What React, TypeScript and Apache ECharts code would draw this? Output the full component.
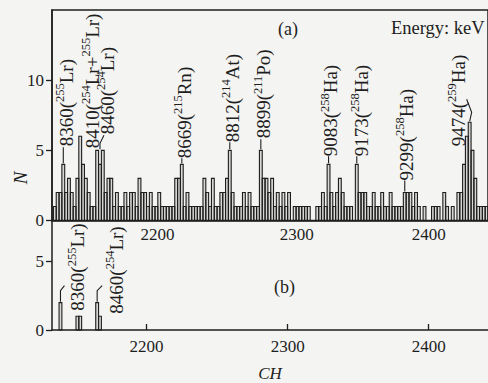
import React, { useEffect, useRef } from 'react';
import * as echarts from 'echarts';

// ---------- data ----------
const BIN_START = 2134; // first channel of the first bin
const BIN_WIDTH = 2; // channels per bin
const X_MIN = 2133;
const X_MAX = 2442;
const X_TICKS = [2200, 2300, 2400];
const TOP_Y_TICKS = [0, 5, 10];
const BOTTOM_Y_TICKS = [0, 5];

// (a) counts per 2-channel bin, starting at channel 2134
const TOP_COUNTS = [
  1, 2, 2, 4, 2, 3, 2, 1, 3, 6,
  4, 3, 2, 1, 1, 5, 4, 5, 2, 3,
  3, 1, 2, 1, 1, 2, 1, 2, 2, 1,
  3, 2, 2, 1, 2, 1, 1, 2, 1, 1,
  1, 1, 1, 3, 3, 4, 1, 2, 1, 1,
  1, 1, 1, 3, 2, 1, 3, 1, 1, 2,
  2, 3, 5, 2, 1, 1, 1, 2, 1, 2,
  1, 1, 1, 5, 3, 3, 2, 3, 1, 2,
  1, 2, 1, 2, 0, 1, 1, 1, 1, 1,
  1, 0, 0, 1, 1, 2, 1, 4, 2, 1,
  2, 3, 2, 1, 1, 1, 0, 4, 2, 2,
  2, 1, 1, 2, 1, 1, 2, 1, 1, 2,
  1, 1, 1, 1, 2, 2, 2, 1, 2, 1,
  0, 1, 0, 0, 1, 1, 1, 0, 2, 1,
  0, 1, 0, 2, 2, 4, 6, 7, 5, 3,
  1, 1, 1, 1,
];

// (b) non-empty bins: [first channel of bin, counts]
const BOTTOM_BINS = [
  [2138, 2],
  [2150, 1],
  [2152, 1],
  [2164, 2],
  [2166, 1],
];

// peak annotations of (a)
const TOP_PEAK_CHANNELS = [2141, 2153, 2167, 2225, 2259, 2281, 2329, 2349, 2383, 2429];
const TOP_PEAK_COUNTS = [4, 6, 5, 4, 5, 5, 4, 4, 2, 7];
const TOP_PEAK_ENERGIES = ['8360', '8410', '8460', '8669', '8812', '8899', '9083', '9173', '9299', '9474'];
const TOP_PEAK_NUCLIDES = [
  [['255', 'Lr']],
  [['254', 'Lr'], ['255', 'Lr']],
  [['254', 'Lr']],
  [['215', 'Rn']],
  [['214', 'At']],
  [['211', 'Po']],
  [['258', 'Ha']],
  [['258', 'Ha']],
  [['258', 'Ha']],
  [['259', 'Ha']],
];

// peak annotations of (b)
const BOTTOM_PEAK_CHANNELS = [2139, 2165];
const BOTTOM_PEAK_COUNTS = [2, 2];
const BOTTOM_PEAK_ENERGIES = ['8360', '8460'];
const BOTTOM_PEAK_NUCLIDES = [[['255', 'Lr']], [['254', 'Lr']]];

// ---------- layout of the annotation texts (px, relative to the peak top) ----------
const TOP_LABEL_LAYOUT = [
  { dx: 1.5, gap: 18, leader: [[0, -1], [0, -17]] },
  { dx: 10.5, gap: -12, leader: [] },
  { dx: 6, gap: 16, leader: [[0, -1], [0, -7], [4, -15]] },
  { dx: 1, gap: 6, leader: [[0, -1], [0, -6]] },
  { dx: 1, gap: 8, leader: [[0, -1], [0, -8]] },
  { dx: 1.5, gap: 12, leader: [[0, -1], [0, -11]] },
  { dx: 0.5, gap: 8, leader: [[0, -1], [0, -8]] },
  { dx: 3, gap: 8, leader: [[0, -1], [0, -8]] },
  { dx: 0, gap: 12, leader: [[0, -1], [0, -12]] },
  { dx: -13, gap: -24, leader: [[0, -1], [2, -10], [-3, -23]] },
];
const BOTTOM_LABEL_LAYOUT = [
  { dx: 16, gap: -8, leader: [[0, -1], [0, -12], [4, -17]] },
  { dx: 17.5, gap: -11, leader: [[0, -1], [0, -12], [5, -17]] },
];

const SERIF = 'Liberation Serif';
const INK = '#1e1e1e';

function richLabel(energy: string, nuclides: string[][]) {
  const parts = nuclides.map(([a, s]) => `{s|${a}}{n|${s}}`).join('{n|+}');
  return `{n|${energy}(}${parts}{n|)}`;
}

const LABEL_RICH = {
  n: { fontFamily: SERIF, fontSize: 19, lineHeight: 22, verticalAlign: 'bottom', fill: INK },
  s: { fontFamily: SERIF, fontSize: 12.5, lineHeight: 13, verticalAlign: 'top', fill: INK },
};

function histItem(start: number, count: number, api: any) {
  if (!count) return null;
  const p0 = api.coord([start, count]);
  const p1 = api.coord([start + BIN_WIDTH, 0]);
  return {
    type: 'rect',
    shape: { x: p0[0], y: p0[1], width: p1[0] - p0[0], height: p1[1] - p0[1] },
    style: { fill: 'rgba(40,40,40,0.14)', stroke: INK, lineWidth: 1.1 },
  };
}

function annotationSeries(
  xAxisIndex: number,
  channels: number[],
  counts: number[],
  energies: string[],
  nuclides: string[][][],
  layout: any[]
) {
  return {
    type: 'custom',
    xAxisIndex,
    yAxisIndex: xAxisIndex,
    data: channels.map((c, i) => [c, counts[i]]),
    encode: { x: 0, y: 1 },
    silent: true,
    z: 5,
    renderItem: (params: any, api: any) => {
      const i = params.dataIndex;
      const p = api.coord([api.value(0), api.value(1)]);
      const L = layout[i];
      const children: any[] = [];
      if (L.leader.length > 1) {
        children.push({
          type: 'polyline',
          shape: { points: L.leader.map(([a, b]: number[]) => [p[0] + a, p[1] + b]) },
          style: { stroke: INK, lineWidth: 1.1, fill: 'none' },
        });
      }
      children.push({
        type: 'text',
        x: p[0] + L.dx,
        y: p[1] - L.gap,
        rotation: Math.PI / 2,
        style: {
          text: richLabel(energies[i], nuclides[i]),
          rich: LABEL_RICH,
          fill: INK,
          fontFamily: SERIF,
          fontSize: 19,
          align: 'left',
          verticalAlign: 'middle',
        },
      });
      return { type: 'group', children };
    },
  };
}

export default function App() {
  const ref = useRef<HTMLDivElement>(null);

  useEffect(() => {
    if (!ref.current) return;
    const chart = echarts.init(ref.current, null, { renderer: 'svg' });

    const axisLineStyle = { color: INK, width: 1.5 };
    const tickLabel = { fontFamily: SERIF, fontSize: 17, color: INK };

    const option: any = {
      animation: false,
      backgroundColor: '#f4f4f2',
      textStyle: { fontFamily: SERIF },
      grid: [
        {
          left: 52, top: 10, width: 437.2, height: 210.5,
          show: true, borderColor: INK, borderWidth: 1.5, backgroundColor: 'transparent',
        },
        { left: 52, top: 220.5, width: 437.2, height: 113.5 },
      ],
      xAxis: [
        {
          type: 'value', gridIndex: 0, min: X_MIN, max: X_MAX,
          axisLine: { show: true, lineStyle: axisLineStyle },
          axisTick: { show: false },
          splitLine: { show: false },
          axisLabel: {
            ...tickLabel,
            customValues: X_TICKS,
            margin: 5,
            formatter: (v: number) => `{t${v}|${v}}`,
            rich: {
              t2200: { ...tickLabel, padding: [0, 0, 0, 22] },
              t2300: { ...tickLabel, padding: [0, 0, 0, 18] },
              t2400: { ...tickLabel },
            },
          },
        },
        {
          type: 'value', gridIndex: 1, min: X_MIN, max: X_MAX,
          axisLine: { show: true, lineStyle: axisLineStyle },
          axisTick: { show: true, inside: true, length: 6, customValues: X_TICKS, lineStyle: { color: INK, width: 1.3 } },
          splitLine: { show: false },
          axisLabel: { ...tickLabel, customValues: X_TICKS, margin: 8, formatter: (v: number) => String(v) },
          name: 'CH',
          nameLocation: 'middle',
          nameGap: 35,
          nameTextStyle: { fontFamily: SERIF, fontSize: 17, fontStyle: 'italic', color: INK },
        },
      ],
      yAxis: [
        {
          type: 'value', gridIndex: 0, min: 0, max: 15,
          axisLine: { show: true, lineStyle: axisLineStyle },
          axisTick: { show: true, length: 6, customValues: TOP_Y_TICKS, lineStyle: { color: INK, width: 1.3 } },
          splitLine: { show: false },
          axisLabel: { ...tickLabel, customValues: TOP_Y_TICKS, margin: 8, formatter: (v: number) => String(v) },
        },
        {
          type: 'value', gridIndex: 1, min: 0, max: 8,
          axisLine: { show: true, lineStyle: axisLineStyle },
          axisTick: { show: true, length: 6, customValues: BOTTOM_Y_TICKS, lineStyle: { color: INK, width: 1.3 } },
          splitLine: { show: false },
          axisLabel: { ...tickLabel, customValues: BOTTOM_Y_TICKS, margin: 8, formatter: (v: number) => String(v) },
        },
      ],
      graphic: [
        { type: 'text', left: 278, top: 20, style: { text: '(a)', fontFamily: SERIF, fontSize: 18, fill: INK } },
        { type: 'text', left: 274, top: 278, style: { text: '(b)', fontFamily: SERIF, fontSize: 18, fill: INK } },
        { type: 'text', left: 391, top: 18, style: { text: 'Energy: keV', fontFamily: SERIF, fontSize: 18.5, fill: INK } },
        {
          type: 'text', x: 20, y: 178, rotation: Math.PI / 2,
          style: { text: 'N', fontFamily: SERIF, fontSize: 19, fontStyle: 'italic', fill: INK, align: 'center', verticalAlign: 'middle' },
        },
      ],
      series: [
        {
          type: 'custom',
          xAxisIndex: 0,
          yAxisIndex: 0,
          data: TOP_COUNTS.map((c, i) => [BIN_START + i * BIN_WIDTH, c]),
          encode: { x: 0, y: 1 },
          silent: true,
          renderItem: (_p: any, api: any) => histItem(api.value(0), api.value(1), api),
        },
        {
          type: 'custom',
          xAxisIndex: 1,
          yAxisIndex: 1,
          data: BOTTOM_BINS,
          encode: { x: 0, y: 1 },
          silent: true,
          renderItem: (_p: any, api: any) => histItem(api.value(0), api.value(1), api),
        },
        annotationSeries(0, TOP_PEAK_CHANNELS, TOP_PEAK_COUNTS, TOP_PEAK_ENERGIES, TOP_PEAK_NUCLIDES, TOP_LABEL_LAYOUT),
        annotationSeries(1, BOTTOM_PEAK_CHANNELS, BOTTOM_PEAK_COUNTS, BOTTOM_PEAK_ENERGIES, BOTTOM_PEAK_NUCLIDES, BOTTOM_LABEL_LAYOUT),
      ],
    };

    chart.setOption(option);
    return () => chart.dispose();
  }, []);

  return (
    <div
      ref={ref}
      style={{ position: 'absolute', left: 0, top: 0, width: 488, height: 383, overflow: 'hidden' }}
    />
  );
}
